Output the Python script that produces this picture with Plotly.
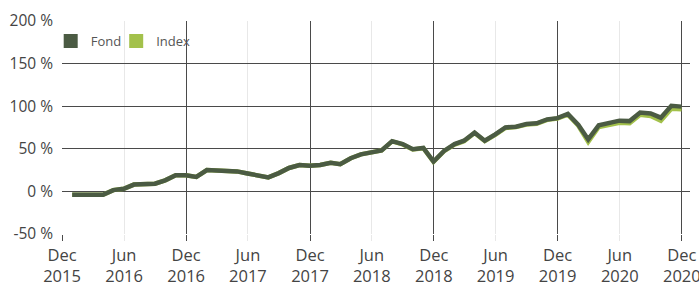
import plotly.graph_objects as go

dates = [
    "2015-12-31",
    "2016-01-31", "2016-02-29", "2016-03-31", "2016-04-30", "2016-05-31", "2016-06-30",
    "2016-07-31", "2016-08-31", "2016-09-30", "2016-10-31", "2016-11-30", "2016-12-31",
    "2017-01-31", "2017-02-28", "2017-03-31", "2017-04-30", "2017-05-31", "2017-06-30",
    "2017-07-31", "2017-08-31", "2017-09-30", "2017-10-31", "2017-11-30", "2017-12-31",
    "2018-01-31", "2018-02-28", "2018-03-31", "2018-04-30", "2018-05-31", "2018-06-30",
    "2018-07-31", "2018-08-31", "2018-09-30", "2018-10-31", "2018-11-30", "2018-12-31",
    "2019-01-31", "2019-02-28", "2019-03-31", "2019-04-30", "2019-05-31", "2019-06-30",
    "2019-07-31", "2019-08-31", "2019-09-30", "2019-10-31", "2019-11-30", "2019-12-31",
    "2020-01-31", "2020-02-29", "2020-03-31", "2020-04-30", "2020-05-31", "2020-06-30",
    "2020-07-31", "2020-08-31", "2020-09-30", "2020-10-31", "2020-11-30",
]

fond = [
    -4,
    -4, -3.5, -4, 1.5, 3, 8, 9, 9, 13, 19, 19, 17,
    25, 24.5, 24.5, 23.5, 21, 18.5, 16.5, 21.5, 27.5, 31, 30, 31,
    33.5, 32, 39, 43.5, 46, 48, 59, 55.5, 49.5, 51, 35, 47.5,
    55.5, 59.5, 69, 59.5, 67, 75, 76, 79, 80, 84.5, 86, 91,
    78, 61, 77.5, 80.5, 83, 82.5, 92.5, 91.5, 86.5, 100.5, 99.5,
]

index = [
    -4,
    -4, -3.5, -4, 1.5, 3, 8, 9, 9, 13, 19, 19, 17,
    25, 24.5, 24.5, 23.5, 21, 18.5, 16.5, 21.5, 27.5, 31, 30, 31,
    33.5, 32, 39, 43.5, 46, 48, 58.7, 55.2, 49.2, 50.7, 34.7, 47.2,
    55, 59, 68.5, 59, 66.5, 74.5, 75.5, 78.5, 79.5, 84, 85.5, 90,
    77, 58, 75.5, 78, 80.5, 80, 90, 88.5, 83, 97, 96.5,
]

y_ticks = [-50, 0, 50, 100, 150, 200]
y_labels = ["-50 %", "0 %", "50 %", "100 %", "150 %", "200 %"]

x_ticks = ["2015-12-01", "2016-06-01", "2016-12-01", "2017-06-01", "2017-12-01",
           "2018-06-01", "2018-12-01", "2019-06-01", "2019-12-01", "2020-06-01",
           "2020-12-01"]
x_labels = ["Dec<br>2015", "Jun<br>2016", "Dec<br>2016", "Jun<br>2017", "Dec<br>2017",
            "Jun<br>2018", "Dec<br>2018", "Jun<br>2019", "Dec<br>2019", "Jun<br>2020",
            "Dec<br>2020"]
dec_ticks = ["2015-12-01", "2016-12-01", "2017-12-01", "2018-12-01", "2019-12-01",
             "2020-12-01"]

FOND_C = "#4b5b43"
INDEX_C = "#a3c14b"

fig = go.Figure()
fig.add_trace(go.Scatter(x=dates, y=index, mode="lines", name="Index",
                         line=dict(color=INDEX_C, width=4.5), showlegend=False))
fig.add_trace(go.Scatter(x=dates, y=fond, mode="lines", name="Fond",
                         line=dict(color=FOND_C, width=4.5), showlegend=False))
# legend swatches (one legend each, for exact placement)
fig.add_trace(go.Scatter(x=[None], y=[None], mode="markers", name="Fond",
                         legend="legend",
                         marker=dict(symbol="square", size=14, color=FOND_C)))
fig.add_trace(go.Scatter(x=[None], y=[None], mode="markers", name="Index",
                         legend="legend2",
                         marker=dict(symbol="square", size=14, color=INDEX_C)))
# overlay axis for December grid lines
fig.add_trace(go.Scatter(x=[None], y=[None], xaxis="x2", showlegend=False,
                         hoverinfo="skip"))

xrange = ["2015-12-01", "2020-12-25"]
legend_common = dict(orientation="h", yanchor="top", xanchor="left",
                     bgcolor="rgba(0,0,0,0)", font=dict(size=13, color="#555"),
                     itemwidth=30)
fig.update_layout(
    width=699, height=284,
    margin=dict(l=62, r=9, t=21, b=50),
    paper_bgcolor="white", plot_bgcolor="white",
    font=dict(family="Open Sans", size=15.5, color="#444"),
    showlegend=True,
    legend=dict(x=-0.018, y=0.976, **legend_common),
    legend2=dict(x=0.0863, y=0.976, **legend_common),
    xaxis=dict(type="date", range=xrange, tickvals=x_ticks, ticktext=x_labels,
               showgrid=True, gridcolor="#e8e8e8", gridwidth=1,
               ticks="outside", ticklen=6, tickcolor="#e8e8e8",
               tickfont=dict(size=16.5), ticklabelstandoff=0,
               ticklabeloverflow="allow",
               zeroline=False, showline=False, automargin=False),
    xaxis2=dict(type="date", range=xrange, overlaying="x", tickvals=dec_ticks,
                showticklabels=False, showgrid=True, gridcolor="#4a4a4a",
                gridwidth=1, ticks="outside", ticklen=6, tickcolor="#4a4a4a",
                zeroline=False, showline=False, side="bottom", automargin=False),
    yaxis=dict(range=[-50, 200], tickvals=y_ticks, ticktext=y_labels,
               showgrid=True, gridcolor="#4a4a4a", gridwidth=1,
               zeroline=False, showline=False, ticklabelstandoff=8,
               automargin=False),
)

fig.write_html(
    "out.html",
    config={"displayModeBar": False},
    post_script="document.body.style.margin='0';document.body.style.overflow='hidden';",
)
